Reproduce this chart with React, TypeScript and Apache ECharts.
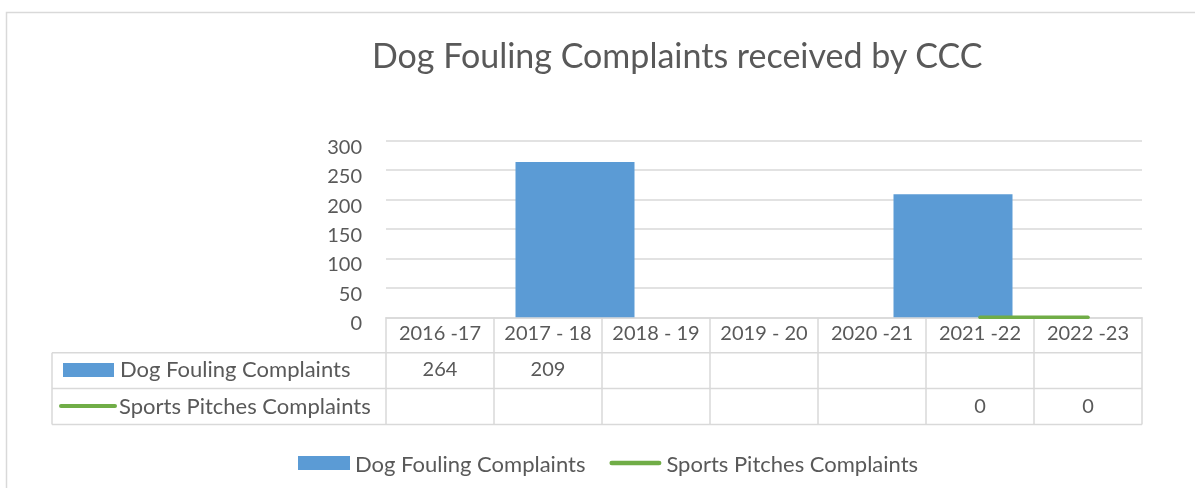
import React, { useEffect, useRef } from "react";
import * as echarts from "echarts";

const categories = ["2016 -17", "2017 - 18", "2018 - 19", "2019 - 20", "2020 -21", "2021 -22", "2022 -23"];
const dogFouling = [264, 209];
const sportsPitches: (number | null)[] = [null, null, null, null, null, 0, 0];
const seriesNames = ["Dog Fouling Complaints", "Sports Pitches Complaints"];
const yTicks = { min: 0, max: 300, interval: 50 };
const title = "Dog Fouling Complaints received by CCC";

const FONT = "Lato, 'Noto Sans', sans-serif";
const TEXT = "#595959";
const GRID_C = "#d9d9d9";
const BLUE = "#5b9bd5";
const GREEN = "#70ad47";

export default function App() {
  const ref = useRef<HTMLDivElement>(null);
  useEffect(() => {
    if (!ref.current) return;
    const chart = echarts.init(ref.current, null, { renderer: "svg" });
    const gridLeft = 386, gridRight = 1142, gridTop = 140.7, gridBottom = 317.3;
    const tableLeft = 52;
    const rowY = [gridBottom, 352.7, 388.5, 424.5];
    chart.setOption({
      animation: false,
      title: {
        text: title,
        left: 367,
        top: 32,
        textStyle: { fontFamily: FONT, fontSize: 34, fontWeight: "normal", color: TEXT },
      },
      legend: {
        data: [
          { name: seriesNames[0], icon: "rect" },
          { name: seriesNames[1], icon: "path://M2.5,0 H52.5 A2.5,2.5 0 0 1 52.5,5 H2.5 A2.5,2.5 0 0 1 2.5,0 Z" },
        ],
        left: 298,
        top: 452,
        padding: 0,
        itemWidth: 52,
        itemHeight: 14,
        itemGap: 24,
        textStyle: { fontFamily: FONT, fontSize: 22, color: TEXT },
      },
      grid: { left: gridLeft, right: 1195 - gridRight, top: gridTop, bottom: 488 - gridBottom },
      xAxis: [
        {
          type: "category",
          data: categories,
          boundaryGap: true,
          axisLine: { show: true, lineStyle: { color: GRID_C, width: 1.5 } },
          axisTick: { show: true, interval: 0, length: rowY[3] - gridBottom, lineStyle: { color: GRID_C, width: 1.5 } },
          axisLabel: { interval: 0, margin: 5, fontFamily: FONT, fontSize: 20, color: TEXT, lineHeight: 20 },
          splitLine: { show: false },
        },
        { type: "category", data: ["a", "b"], show: false, boundaryGap: true },
      ],
      yAxis: {
        type: "value",
        min: yTicks.min,
        max: yTicks.max,
        interval: yTicks.interval,
        axisLine: { show: false },
        axisTick: { show: false },
        axisLabel: {
          margin: 24,
          fontFamily: FONT,
          fontSize: 20,
          color: TEXT,
          verticalAlign: "top",
          lineHeight: 10,
        },
        splitLine: { lineStyle: { color: GRID_C, width: 1.5 } },
      },
      series: [
        {
          name: seriesNames[0],
          type: "bar",
          xAxisIndex: 1,
          data: dogFouling,
          barWidth: 119,
          itemStyle: { color: BLUE },
        },
        {
          name: seriesNames[1],
          type: "line",
          xAxisIndex: 0,
          data: sportsPitches,
          symbol: "none",
          lineStyle: { color: GREEN, width: 3.5, cap: "round" },
          itemStyle: { color: GREEN },
          z: 3,
        },
      ],
    });

    const colX = categories.map((c) => chart.convertToPixel({ xAxisIndex: 0 }, c) as number);
    const rowText = [368, 405];
    const tableRows: (number | null)[][] = [
      categories.map((_, i) => (i < dogFouling.length ? dogFouling[i] : null)),
      sportsPitches,
    ];
    const graphics: any[] = [
      {
        type: "rect",
        shape: { x: 6.5, y: 12.5, width: 1250, height: 600 },
        style: { fill: "none", stroke: GRID_C, lineWidth: 1.5 },
        silent: true,
      },
      ...rowY.slice(1).map((y) => ({
        type: "line",
        shape: { x1: tableLeft, y1: y, x2: gridRight, y2: y },
        style: { stroke: GRID_C, lineWidth: 1.5 },
      })),
      {
        type: "line",
        shape: { x1: tableLeft, y1: rowY[1], x2: tableLeft, y2: rowY[3] },
        style: { stroke: GRID_C, lineWidth: 1.5 },
      },
      { type: "rect", shape: { x: 63, y: 363, width: 51, height: 14 }, style: { fill: BLUE } },
      {
        type: "line",
        shape: { x1: 61, y1: 406, x2: 115, y2: 406 },
        style: { stroke: GREEN, lineWidth: 4, lineCap: "round" },
      },
      {
        type: "text",
        x: 120,
        y: rowText[0],
        style: { text: seriesNames[0], fontFamily: FONT, fontSize: 22, fill: TEXT, verticalAlign: "middle" },
      },
      {
        type: "text",
        x: 119,
        y: rowText[1],
        style: { text: seriesNames[1], fontFamily: FONT, fontSize: 22, fill: TEXT, verticalAlign: "middle" },
      },
    ];
    tableRows.forEach((row, r) => {
      row.forEach((v, i) => {
        if (v === null || v === undefined) return;
        graphics.push({
          type: "text",
          x: colX[i],
          y: rowText[r],
          style: { text: String(v), fontFamily: FONT, fontSize: 20, fill: TEXT, align: "center", verticalAlign: "middle" },
        });
      });
    });
    chart.setOption({ graphic: graphics });
    return () => chart.dispose();
  }, []);
  return <div ref={ref} style={{ position: "fixed", left: 0, top: 0, width: 1195, height: 488 }} />;
}
